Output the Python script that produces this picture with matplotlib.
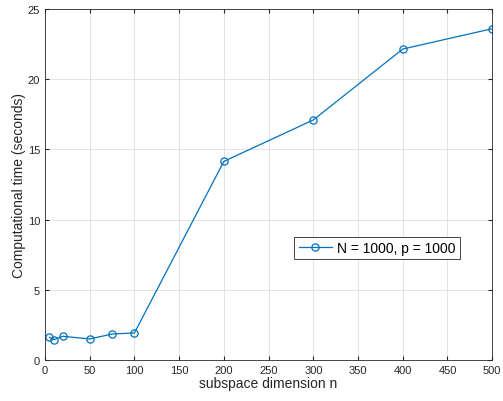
import matplotlib

matplotlib.use("Agg")
import matplotlib.pyplot as plt

plt.rcParams["font.family"] = ["Liberation Sans", "DejaVu Sans"]

# subspace dimension vs. runtime
dims = [5, 10, 20, 50, 75, 100, 200, 300, 400, 500]
times = [1.62, 1.45, 1.69, 1.50, 1.85, 1.93, 14.15, 17.1, 22.15, 23.6]
xticks = list(range(0, 501, 50))
yticks = [0, 5, 10, 15, 20, 25]


def main():
    fig = plt.figure(figsize=(5.03, 4.02), dpi=100)
    ax = fig.add_axes([0.0895, 0.102, 0.889, 0.873])

    ax.plot(dims, times, "-o", color="#0072BD", lw=0.9, ms=5.2,
            mfc="none", mew=0.9, label="N = 1000, p = 1000")

    ax.set_xlim(0, 500)
    ax.set_ylim(0, 25)
    ax.set_xticks(xticks)
    ax.set_yticks(yticks)
    ax.grid(True, color="#dedede", lw=0.6)
    ax.set_axisbelow(True)
    ax.tick_params(direction="in", length=3, labelsize=8, color="#262626",
                   labelcolor="#262626", top=True, right=True)
    for s in ax.spines.values():
        s.set_color("#262626")
        s.set_linewidth(0.6)

    ax.set_xlabel("subspace dimension n", fontsize=10, color="#262626", labelpad=1)
    ax.set_ylabel("Computational time (seconds)", fontsize=10, color="#262626", labelpad=1)

    leg = ax.legend(loc="center", bbox_to_anchor=(0.743, 0.319), fontsize=10,
                    fancybox=False, framealpha=1, edgecolor="#262626",
                    handlelength=2.4, borderpad=0.3, handletextpad=0.4)
    leg.get_frame().set_linewidth(0.6)

    fig.savefig("out.png", dpi=100)


if __name__ == "__main__":
    main()
